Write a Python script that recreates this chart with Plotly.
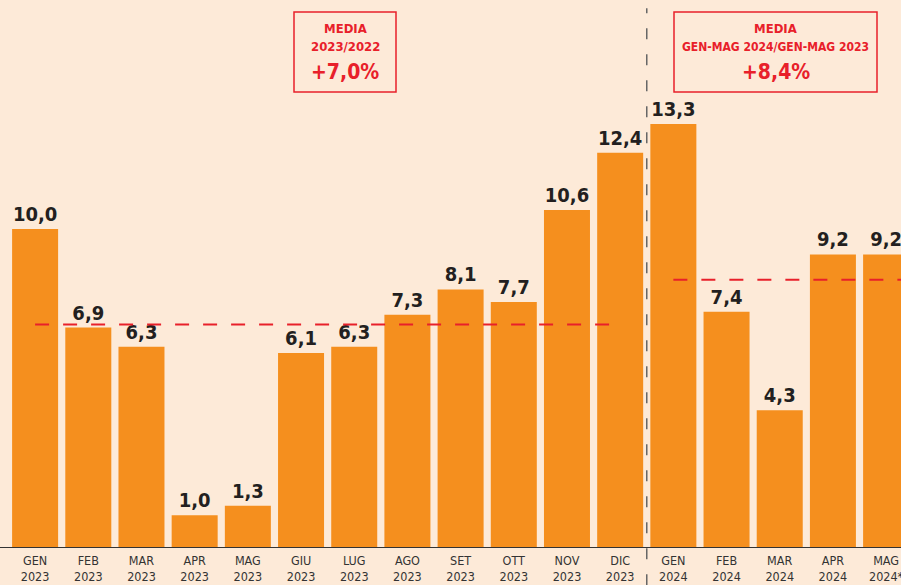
import plotly.graph_objects as go

months = ["GEN", "FEB", "MAR", "APR", "MAG", "GIU", "LUG", "AGO", "SET", "OTT", "NOV", "DIC",
          "GEN", "FEB", "MAR", "APR", "MAG"]
years = ["2023"] * 12 + ["2024"] * 4 + ["2024*"]
values = [10.0, 6.9, 6.3, 1.0, 1.3, 6.1, 6.3, 7.3, 8.1, 7.7, 10.6, 12.4,
          13.3, 7.4, 4.3, 9.2, 9.2]
avg_2023 = 7.0
avg_2024 = 8.4

ORANGE = "#F58F1E"
RED = "#E8202A"
BG = "#FDEAD8"
FONT = "Liberation Sans Narrow, DejaVu Sans Condensed, Arial Narrow, sans-serif"

x = list(range(len(values)))
ticktext = [f"{m}<br>{y}" for m, y in zip(months, years)]
xmin, xmax = -0.66, 16.28

fig = go.Figure(go.Bar(
    x=x, y=values,
    marker=dict(color=ORANGE, line=dict(width=0)),
    texttemplate="<b>%{y:.1f}</b>",
    textposition="outside",
    textfont=dict(family=FONT, size=20, color="#231F20"),
    cliponaxis=False,
))

# average lines
fig.add_shape(type="line", xref="x", yref="y", x0=0, x1=11, y0=avg_2023, y1=avg_2023,
              line=dict(color=RED, width=2, dash="14px,14px"), layer="above")
fig.add_shape(type="line", xref="x", yref="y", x0=12, x1=xmax, y0=avg_2024, y1=avg_2024,
              line=dict(color=RED, width=2, dash="14px,14px"), layer="above")

# separator between years
sep = (11.5 - xmin) / (xmax - xmin)
fig.add_shape(type="line", xref="paper", yref="paper", x0=sep, x1=sep, y0=-0.07, y1=0.985,
              line=dict(color="#666666", width=1.5, dash="11px,15px"), layer="above")

# boxes with the averages
PH = 547  # plot height in px


def py(px):
    return (PH - px) / PH


boxes = [
    (294, 396, ["MEDIA", "2023/2022"], "+7,0%", 13),
    (674, 877, ["MEDIA", "GEN-MAG 2024/GEN-MAG 2023"], "+8,4%", 12),
]
for bx0, bx1, small, big, sz in boxes:
    cx = (bx0 + bx1) / 2 / 901
    fig.add_shape(type="rect", xref="paper", yref="paper", x0=bx0/901, x1=bx1/901,
                  y0=py(92), y1=py(12), line=dict(color=RED, width=1.5))
    for txt, ypx, s in [(small[0], 29, 13), (small[1], 47, sz), (big, 72, 21)]:
        fig.add_annotation(xref="paper", yref="paper", x=cx, y=py(ypx),
                           text=f"<b>{txt}</b>", showarrow=False,
                           xanchor="center", yanchor="middle",
                           font=dict(family=FONT, size=s, color=RED))

fig.update_layout(
    width=901, height=585,
    margin=dict(l=0, r=0, t=0, b=38),
    paper_bgcolor=BG, plot_bgcolor=BG,
    separators=",.",
    bargap=0.135,
    showlegend=False,
    xaxis=dict(range=[xmin, xmax], tickmode="array", tickvals=x, ticktext=ticktext,
               showgrid=False, zeroline=False, showline=True, linecolor="#333333", linewidth=1,
               ticks="", tickfont=dict(family=FONT, size=12.5, color="#333333"),
               ticklabelstandoff=2, ticklabeloverflow="allow", automargin=False,
               fixedrange=True),
    yaxis=dict(range=[0, 17.2], visible=False, fixedrange=True, automargin=False),
)

fig.write_html("out.html", config={"displayModeBar": False},
               post_script="document.body.style.margin='0px';document.body.style.overflow='hidden';")
